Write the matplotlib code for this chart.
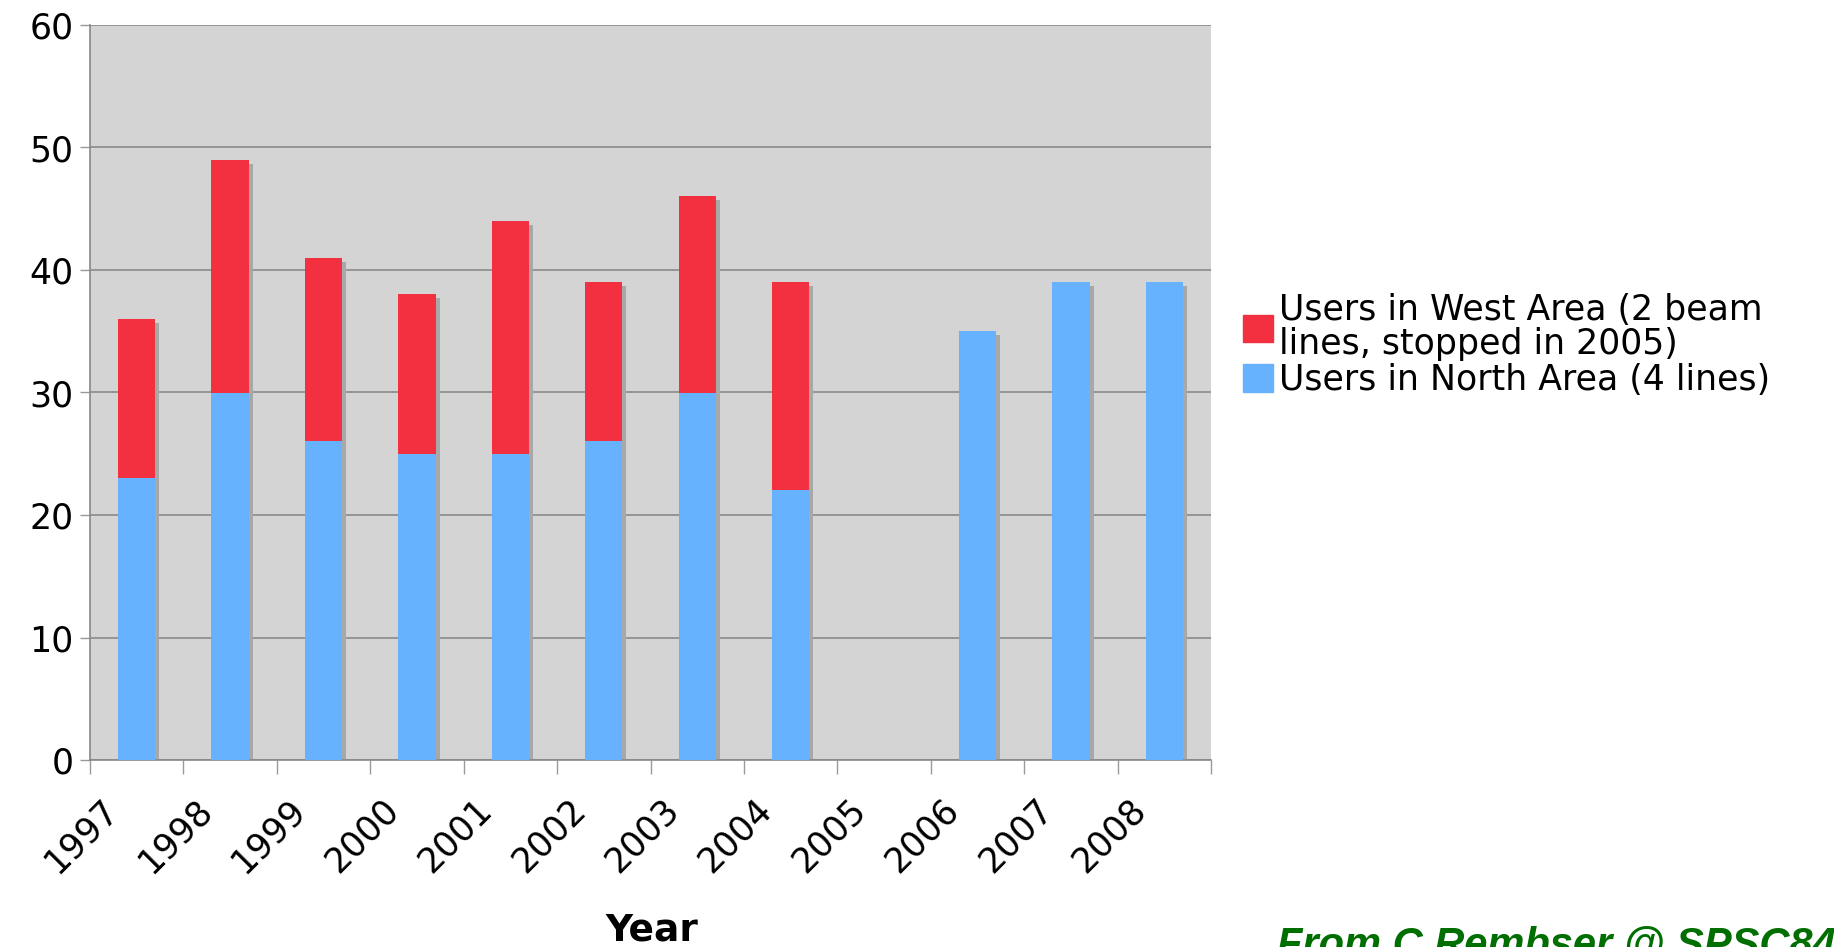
import matplotlib
matplotlib.use("Agg")
import matplotlib.pyplot as plt
import matplotlib.transforms as mtransforms
from matplotlib.patches import Patch

years = ['1997', '1998', '1999', '2000', '2001', '2002',
         '2003', '2004', '2005', '2006', '2007', '2008']
north_area = [23, 30, 26, 25, 25, 26, 30, 22, 0, 35, 39, 39]
west_area = [13, 19, 15, 13, 19, 13, 16, 17, 0, 0, 0, 0]

red = '#f2303f'
blue = '#66b2ff'

plt.rcParams['font.family'] = ['DejaVu Sans']

W, H = 1834, 947
fig = plt.figure(figsize=(W / 100, H / 100), dpi=100)
ax = fig.add_axes([90 / W, 1 - 760 / H, 1121 / W, 735 / H])
ax.set_facecolor('#d4d4d4')

x = list(range(len(years)))
totals = [n + w for n, w in zip(north_area, west_area)]

# drop shadow behind each stacked bar
shadow = ax.transData + mtransforms.ScaledTranslation(0.04, -0.04, fig.dpi_scale_trans)
ax.bar(x, totals, width=0.4, color='#a8a8a8', transform=shadow, zorder=2)
ax.bar(x, north_area, width=0.4, color=blue, zorder=3)
ax.bar(x, west_area, width=0.4, bottom=north_area, color=red, zorder=3)

ax.set_xlim(-0.5, 11.5)
ax.set_ylim(0, 60)
ax.set_yticks(range(0, 61, 10))
ax.yaxis.grid(True, color='#8a8a8a', lw=1.2)
ax.set_axisbelow(True)

for s in ['top', 'right']:
    ax.spines[s].set_visible(False)
for s in ['left', 'bottom']:
    ax.spines[s].set_color('#888888')
    ax.spines[s].set_linewidth(1.2)

ax.set_xticks([i - 0.5 for i in range(13)])
ax.set_xticklabels(years + [''], rotation=45, ha='right', va='center',
                   rotation_mode='anchor')
ax.tick_params(axis='x', length=10, width=1, color='#999999', labelsize=25, pad=22)
ax.tick_params(axis='y', length=7, width=1, color='#999999', labelsize=25, pad=5)

offset = mtransforms.ScaledTranslation(0.23, 0, fig.dpi_scale_trans)
for lab in ax.get_xticklabels():
    lab.set_transform(lab.get_transform() + offset)

fig.text(652 / W, 1 - 930 / H, 'Year', ha='center', va='center',
         fontsize=27, fontweight='bold')

handles = [Patch(color=red), Patch(color=blue)]
labels = ['Users in West Area (2 beam\nlines, stopped in 2005)',
          'Users in North Area (4 lines)']
leg = fig.legend(handles, labels, loc='center left',
                 bbox_to_anchor=(1243 / W, 1 - 345 / H), frameon=False, fontsize=25,
                 handlelength=0.85, handleheight=0.85, handletextpad=0.2,
                 labelspacing=0.05, borderpad=0, borderaxespad=0)
for t in leg.get_texts():
    t.set_linespacing(1.0)

fig.text(1277 / W, 1 - 957 / H, 'From C.Rembser @ SPSC84', ha='left',
         va='baseline', fontsize=30, fontweight='bold', fontstyle='italic',
         color='#006e00', family='Liberation Sans')

fig.savefig('out.png', dpi=100, facecolor='white')
